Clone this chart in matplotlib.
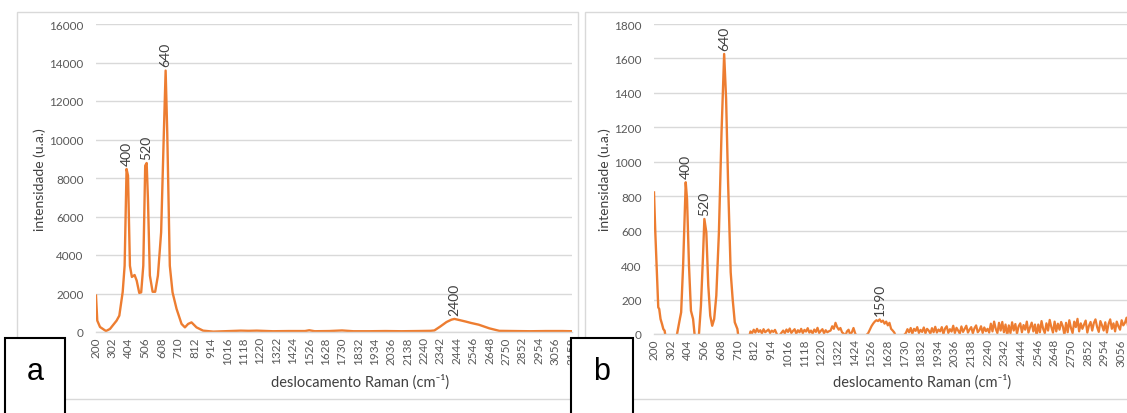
import matplotlib
matplotlib.use("Agg")
import matplotlib.pyplot as plt
from matplotlib.patches import Rectangle

# ---------------- data ----------------
# Panel a : Raman spectrum
a_x = [200, 208, 225, 262, 287, 328, 345, 366, 378, 390, 399, 411, 423, 440, 453, 469, 481,
       494, 506, 515, 523, 535, 552, 568, 585, 605, 622, 633, 643, 659, 676, 701, 732, 753,
       773, 794, 825, 866, 929, 1000, 1100, 1150, 1200, 1300, 1400, 1500, 1526, 1560, 1650,
       1730, 1800, 1900, 2000, 2100, 2200, 2280, 2304, 2340, 2380, 2410, 2429, 2460, 2500,
       2532, 2580, 2646, 2708, 2800, 2900, 3000, 3100, 3160]
a_y = [1890, 590, 260, 50, 160, 590, 850, 2080, 3440, 8470, 8120, 3440, 2860, 2960, 2670, 2030,
       2060, 3440, 8640, 8780, 6910, 2930, 2090, 2090, 2930, 5180, 10370, 13580, 10370, 3440,
       2060, 1200, 420, 240, 420, 500, 240, 70, 20, 40, 70, 60, 70, 40, 50, 50, 90, 40, 50,
       80, 40, 40, 50, 40, 50, 60, 80, 280, 520, 640, 680, 620, 540, 470, 380, 190, 60, 50,
       40, 50, 50, 40]
a_peaks = [(390, 8470, "400"), (515, 8780, "520"), (633, 13580, "640"), (2429, 680, "2400")]

# Panel b : Raman spectrum; values below 0 fall outside the axis
b_x_main = [200, 208, 220, 226, 232, 240, 249, 257, 265, 273, 330, 341, 358, 366, 378, 394,
            402, 414, 426, 439, 451, 465, 475, 487, 499, 508, 520, 532, 544, 556, 568, 581,
            597, 613, 629, 641, 653, 669, 681, 694, 710, 718, 760]
b_y_main = [822, 590, 300, 155, 145, 87, 58, 29, 19, -30, -60, 0, 87, 126, 397, 881, 784, 397,
            135, 87, -30, -60, 0, 164, 435, 668, 590, 281, 106, 48, 87, 222, 590, 1171, 1626,
            1364, 881, 358, 203, 68, 29, -30, -40]
b_noise_start = 780
b_noise_step = 10
b_noise = [
    -20, 15, 5, 25, 8, 30, 12, 22, 4, 28, 10, 18, 26, 6, 20, 12, 24, 2,           # 780-950
    -15, -5,                                                                     # 960-970
    8, 20, 4, 26, 12, 32, 6, 18, 28, 2, 22, 10, 30, 5, 24, 14, 34, 8, 20, 3,       # 980-1170
    26, 12, 36, 6, 18, 28, 4, 22, 10, 16,                                        # 1180-1270
    20, 45, 30, 65, 40, 25, 35, 10,                                              # 1280-1350
    2, -10, 15, 25, -5, 10, 35, 5, -15, -20, -25, -10, -20, -15, -5,             # 1360-1500
    5, 25, 45, 60, 72, 80, 75, 85, 70, 78, 60, 72, 50, 65, 30, 20, 8,            # 1510-1670
    -15, -20, -10, -25, -15, -5,                                                 # 1680-1730
    5, 28, 10, 35, 2, 30, 18, 40, 6, 24, 12, 38, 4, 30, 20, 2, 34, 10, 42, 8,     # 1740-1930
    26, 15, 40, 0, 32, 45, 6, 28, 14, 48, 5, 36, 20, 2, 44, 12, 30, 48, 8, 26,    # 1940-2130
    40, 4, 34, 50, 10, 22, 45, 6, 38, 16, 30,                                    # 2140-2240
    8, 60, 15, 72, 30, 5, 65, 20, 70, 10, 55,                                    # 2250-2350
    -10,                                                                         # 2360
    50, 5, 68, 20, 58, 2, 45, 62, 10, 52, 25, 72, 8, 40, 66, 15, 55,             # 2370-2530
    -10,                                                                         # 2540
    55, 10, 75, 30, 5, 62, 20, 82, 40, 8, 72, 15, 60, 25, 70, 45,                # 2550-2700
    -5,                                                                          # 2710
    65, 10, 80, 35, 5, 72, 40, 88, 15, 62, 30, 55, 78, 8, 48, 70, 20, 64, 85,    # 2720-2900
    40, 12, 75, 50, 20, 68, 8, 58, 85, 30, 62, 15, 72, 45, 25, 80, 50, 65, 95,   # 2910-3090
    40, 100, 60, 95, 55, 85, 60,                                                 # 3100-3160
]
b_peaks = [(394, 881, "400"), (508, 668, "520"), (629, 1626, "640"), (1580, 85, "1590")]

x_ticks = list(range(200, 3159, 102))
a_yticks = list(range(0, 16001, 2000))
b_yticks = list(range(0, 1801, 200))

# ---------------- style ----------------
W, H = 1127, 414
orange = "#ED7D31"
grid_c = "#D9D9D9"
txt_c = "#595959"
title_c = "#404040"
plt.rcParams["font.family"] = ["Lato", "DejaVu Sans"]

fig = plt.figure(figsize=(W / 100, H / 100), dpi=100)


def px_axes(l, r, t, b):
    return fig.add_axes([l / W, (H - b) / H, (r - l) / W, (b - t) / H])


# chart frames
for (l, r) in [(17, 578), (585, 1140)]:
    fig.patches.append(Rectangle((l / W, (H - 400) / H), (r - l) / W, (400 - 13) / H,
                                 transform=fig.transFigure, fill=False,
                                 edgecolor=grid_c, lw=1.0))


def style(ax, yticks, ylim, xticks):
    ax.set_xlim(200, 3160)
    ax.set_ylim(*ylim)
    ax.set_xticks(xticks)
    ax.set_xticklabels([str(v) for v in xticks], rotation=90)
    ax.set_yticks(yticks)
    ax.yaxis.grid(True, color=grid_c, lw=1.0)
    ax.set_axisbelow(True)
    for s in ["top", "right", "left"]:
        ax.spines[s].set_visible(False)
    ax.spines["bottom"].set_color(grid_c)
    ax.spines["bottom"].set_linewidth(1.0)
    ax.tick_params(axis="both", length=0, labelsize=8.5, labelcolor=txt_c)
    ax.tick_params(axis="x", pad=3)
    ax.tick_params(axis="y", pad=9)
    ax.patch.set_alpha(0)


# Panel a
ax_a = px_axes(96, 572, 25, 333)
style(ax_a, a_yticks, (0, 16000), x_ticks)
ax_a.plot(a_x, a_y, color=orange, lw=1.7, solid_joinstyle="round")
for x, y, t in a_peaks:
    ax_a.annotate(t, (x, y), xytext=(0, 3), textcoords="offset points", rotation=90,
                  ha="center", va="bottom", fontsize=10, color=title_c)

# Panel b (its last tick label lies beyond the picture edge, as in the reference)
ax_b = px_axes(654, 1138, 25, 335)
style(ax_b, b_yticks, (0, 1800), [v for v in x_ticks if v <= 3056])
ax_b.plot(b_x_main, b_y_main, color=orange, lw=1.7, solid_joinstyle="round")
bnx = [b_noise_start + i * b_noise_step for i in range(len(b_noise))]
ax_b.plot(bnx, b_noise, color=orange, lw=1.6, solid_joinstyle="round")
for x, y, t in b_peaks:
    ax_b.annotate(t, (x, y), xytext=(0, 3), textcoords="offset points", rotation=90,
                  ha="center", va="bottom", fontsize=10, color=title_c)

# axis titles
for cx in (40, 605):
    fig.text(cx / W, (H - 180) / H, "intensidade (u.a.)", rotation=90, ha="center",
             va="center", fontsize=10, color=title_c)
for cx in (360, 922):
    fig.text(cx / W, (H - 382) / H, "deslocamento Raman (cm\u207b\u00b9)", ha="center",
             va="center", fontsize=10.5, color=title_c)

# panel letters in boxes
for (l, r, cx, t) in [(5, 65, 35, "a"), (571, 633, 602, "b")]:
    fig.patches.append(Rectangle((l / W, -0.05), (r - l) / W, (H - 339) / H + 0.05,
                                 transform=fig.transFigure, facecolor="white",
                                 edgecolor="black", lw=1.5, zorder=5))
    fig.text(cx / W, (H - 372) / H, t, ha="center", va="center", fontsize=22,
             family=["Liberation Sans", "DejaVu Sans"], color="black", zorder=6)

fig.savefig("out.png", dpi=100)
